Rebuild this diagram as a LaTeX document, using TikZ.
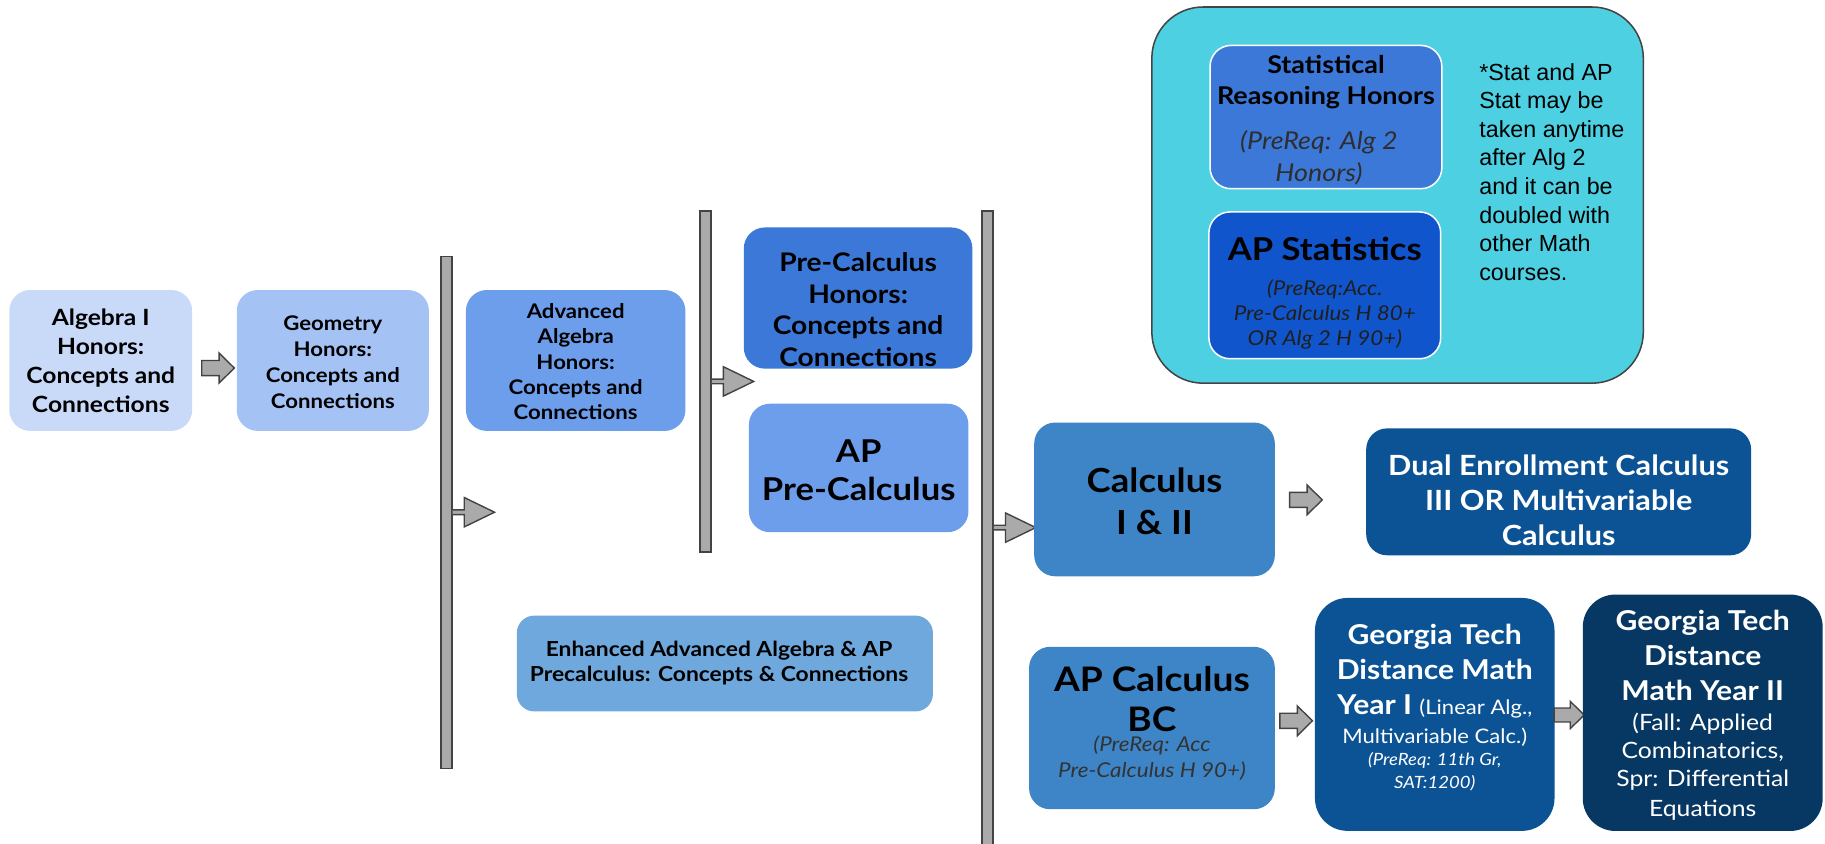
\documentclass[tikz,border=0pt]{standalone}
\usepackage{fontspec}
\setmainfont{Lato}[FakeStretch=1.1]
\newfontfamily\notefont{Liberation Sans}
\newcommand\sz[2]{\fontsize{#1}{#2}\selectfont}

\definecolor{algblue}{HTML}{C9DAF8}
\definecolor{geoblue}{HTML}{A4C2F4}
\definecolor{advblue}{HTML}{6D9EEB}
\definecolor{pcblue}{HTML}{3C78D8}
\definecolor{enhblue}{HTML}{6FA8DC}
\definecolor{apsblue}{HTML}{1155CC}
\definecolor{calcblue}{HTML}{3D85C6}
\definecolor{gtblue}{HTML}{0B5394}
\definecolor{gtnavy}{HTML}{073763}
\definecolor{statcyan}{HTML}{4DD0E1}
\definecolor{bargrey}{HTML}{AAAAAA}
\definecolor{edgegrey}{HTML}{434343}

\tikzset{
  course/.style={rounded corners=18pt, inner sep=0pt},
  title/.style={align=center, inner sep=0pt},
  bar/.style={draw=edgegrey, fill=bargrey, line width=1.2pt, minimum width=9.5pt, inner sep=0pt},
  statbox/.style={draw=edgegrey, fill=statcyan, line width=1.3pt, rounded corners=44pt, inner sep=0pt},
  note/.style={font=\notefont\sz{20}{24.6}, align=left, inner sep=0pt},
  arrowline/.style={draw=edgegrey, fill=bargrey, line width=1.2pt, line join=miter},
  fatarrow/.pic={\path[arrowline] (-14,6.5) -- (1,6.5) -- (1,12.8) -- (14,0) -- (1,-12.8) -- (1,-6.5) -- (-14,-6.5) -- cycle;},
  barhead/.pic={\path[arrowline] (0,2) -- (10,2) -- (10,12.6) -- (36,0) -- (10,-12.6) -- (10,-2) -- (0,-2);},
}

\begin{document}
\begin{tikzpicture}[x=1pt,y=-1pt]
  \useasboundingbox (0,0) rectangle (1567,724);

  % year bars
  \node[bar, minimum height=439.6pt] (bar1) at (383.3,439.8) {};
  \node[bar, minimum height=293pt] (bar2) at (605.8,327.5) {};
  \node[bar, minimum height=544pt] (bar3) at (848,453) {};
  \pic at (bar1.east) {barhead};
  \pic at (bar2.east) {barhead};
  \pic at (bar3.east) {barhead};

  % first years
  \node[course, fill=algblue, minimum width=157pt, minimum height=121pt,
    label={[title, font=\bfseries\sz{19.2}{25}]center:{Algebra I\\Honors:\\Concepts and\\Connections}}] (alg) at (86.5,309.5) {};
  \node[course, fill=geoblue, minimum width=165pt, minimum height=121pt,
    label={[title, font=\bfseries\sz{17.3}{22.5}, yshift=-1.5pt]center:{Geometry\\Honors:\\Concepts and\\Connections}}] (geo) at (285.8,309.5) {};
  \pic at (187.2,316) {fatarrow};
  \node[course, fill=advblue, minimum width=188.5pt, minimum height=121pt,
    label={[title, font=\bfseries\sz{17.3}{21.5}, yshift=-1pt]center:{Advanced\\Algebra\\Honors:\\Concepts and\\Connections}}] (adv) at (494.3,309.5) {};
  \node[course, rounded corners=15pt, fill=enhblue, minimum width=357.3pt, minimum height=82.3pt,
    label={[title, font=\bfseries\sz{17.8}{21.5}, xshift=-5pt]center:{Enhanced Advanced Algebra \& AP\\Precalculus: Concepts \& Connections}}] (enh) at (622.4,569.7) {};

  % pre-calculus
  \node[course, fill=pcblue, minimum width=196.3pt, minimum height=121.2pt,
    label={[title, font=\bfseries\sz{22}{27}, yshift=-10pt]center:{Pre-Calculus\\Honors:\\Concepts and\\Connections}}] (pch) at (736.8,255.9) {};
  \node[course, fill=advblue, minimum width=188.5pt, minimum height=110.3pt,
    label={[title, font=\bfseries\sz{27}{33}, yshift=-2pt]center:{AP\\Pre-Calculus}}] (appc) at (737.3,401.8) {};

  % statistics
  \node[statbox, minimum width=422pt, minimum height=323pt] (stat) at (1200,167.5) {};
  \node[course, draw=white, line width=1.3pt, fill=pcblue, minimum width=199pt, minimum height=123pt,
    label={[title, font=\bfseries\sz{21}{27}, yshift=-2.5pt]center:{Statistical\\Reasoning Honors\\[11.4pt]{\mdseries\itshape\color{black!82}\sz{21}{27}\hspace*{-12pt}(PreReq: Alg 2}\\{\mdseries\itshape\color{black!82}\sz{21}{27}\hspace*{-12pt}Honors)}}}] (srh) at (1138.5,100.5) {};
  \node[course, draw=white, line width=1.3pt, fill=apsblue, minimum width=199pt, minimum height=126pt,
    label={[title, font=\itshape\sz{17.5}{21.4}, text=black!88, yshift=-7pt]center:{{\bfseries\upshape\color{black}\sz{27}{30}AP Statistics}\\[8.6pt](PreReq:Acc.\\Pre-Calculus H 80+\\OR Alg 2 H 90+)}}] (aps) at (1137.5,245) {};
  \node[note, anchor=north west] (memo) at (1270,54) {*Stat and AP\\Stat may be\\taken anytime\\after Alg 2\\and it can be\\doubled with\\other Math\\courses.};

  % calculus and beyond
  \node[course, fill=calcblue, minimum width=206.6pt, minimum height=132pt,
    label={[title, font=\bfseries\sz{28.5}{35.5}, yshift=-1.5pt]center:{Calculus\\I \& II}}] (calc) at (991.3,428.8) {};
  \pic at (1121.3,429.2) {fatarrow};
  \node[course, fill=gtblue, minimum width=330.5pt, minimum height=109pt,
    label={[title, text=white, font=\bfseries\sz{23.9}{30}, yshift=-7pt]center:{Dual Enrollment Calculus\\III OR Multivariable\\Calculus}}] (dual) at (1338.3,422.3) {};
  \node[course, fill=calcblue, minimum width=211pt, minimum height=139.4pt,
    label={[title, font=\itshape\sz{17.5}{22.3}, text=black!80, yshift=4pt]center:{{\bfseries\upshape\color{black}\sz{29}{34}AP Calculus}\\[11.7pt]{\bfseries\upshape\color{black}\sz{29}{34}BC}\\[-4.9pt](PreReq: Acc\\Pre-Calculus H 90+)}}] (bc) at (989.1,625.1) {};
  \pic at (1112.9,618.9) {fatarrow};
  \node[course, rounded corners=28pt, fill=gtblue, minimum width=205.7pt, minimum height=200pt,
    label={[title, text=white, font=\bfseries\sz{23.5}{30}, yshift=6pt]center:{Georgia Tech\\Distance Math\\Year I {\mdseries\sz{17.2}{30}(Linear Alg.,}\\[-5pt]{\mdseries\sz{17.2}{30}Multivariable Calc.)}\\[-10.5pt]{\mdseries\itshape\sz{14.5}{30}(PreReq: 11th Gr,}\\[-10.5pt]{\mdseries\itshape\sz{14.5}{30}SAT:1200)}}}] (gt1) at (1231.9,613.4) {};
  \pic[scale=0.92] at (1347.3,613.9) {fatarrow};
  \node[course, rounded corners=28pt, fill=gtnavy, minimum width=206pt, minimum height=203pt,
    label={[title, text=white, font=\bfseries\sz{23.5}{30}, yshift=-2pt]center:{Georgia Tech\\Distance\\Math Year II\\[-4.3pt]{\mdseries\sz{19.3}{30}(Fall: Applied}\\[-5.8pt]{\mdseries\sz{19.3}{30}Combinatorics,}\\[-5.7pt]{\mdseries\sz{19.3}{30}Spr: Differential}\\[-4.8pt]{\mdseries\sz{19.3}{30}Equations}}}] (gt2) at (1462,612) {};
\end{tikzpicture}
\end{document}
